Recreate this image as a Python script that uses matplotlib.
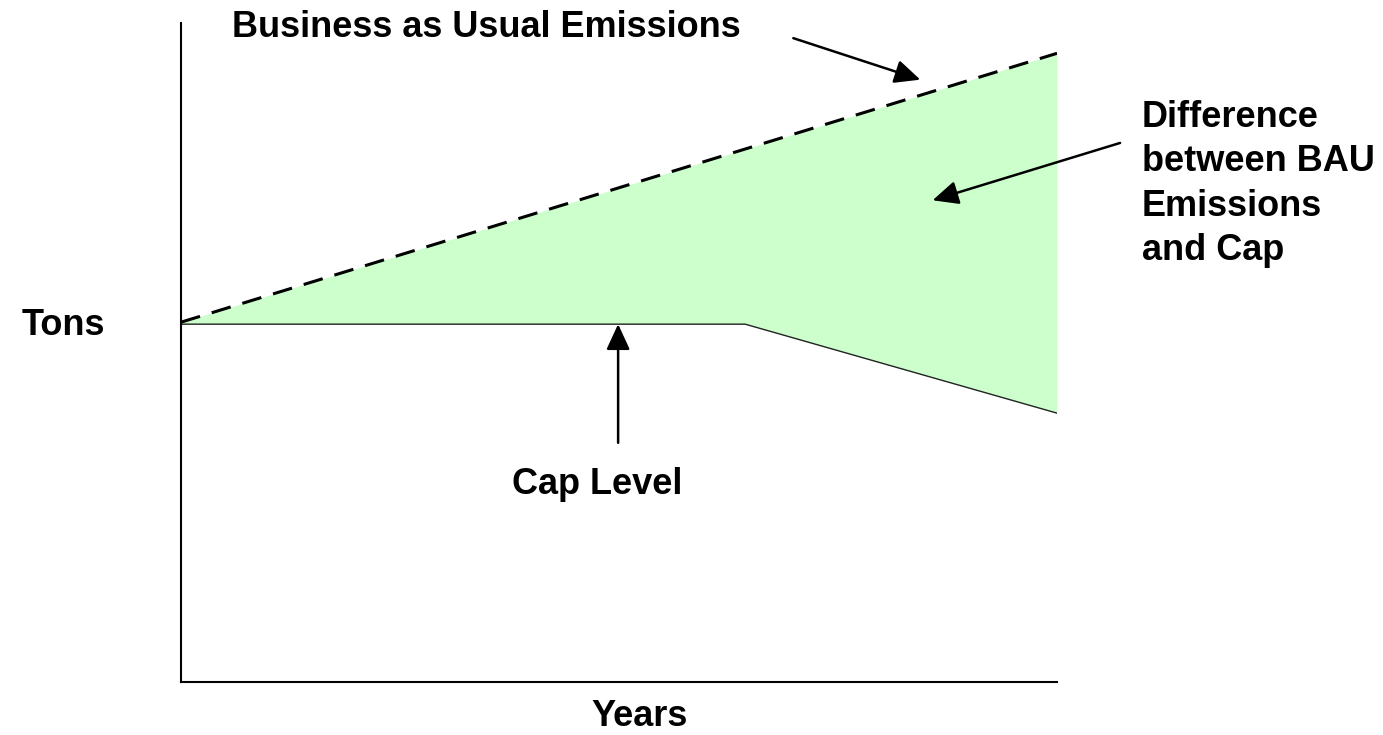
import numpy as np
import matplotlib.pyplot as plt

plt.rcParams['font.family'] = ['Liberation Sans', 'DejaVu Sans']

# schematic values (arbitrary units)
years = [0, 6.44, 10]
bau_years = [0, 10]
bau_tons = [54.6, 95.4]
cap_tons = [54.3, 54.3, 40.8]

W, H = 1383, 735
fig = plt.figure(figsize=(W / 100, H / 100), dpi=100)
ax = fig.add_axes([181 / W, (H - 682) / H, (1057 - 181) / W, (682 - 23) / H])

bau_on_years = np.interp(years, bau_years, bau_tons)
ax.fill_between(years, cap_tons, bau_on_years, color='#ccffcc', lw=0)
ax.plot(years, cap_tons, color='#222222', lw=1.0)
ax.plot(bau_years, bau_tons, color='black', lw=2.2, dashes=(6.5, 4))

ax.set_xlim(0, 10)
ax.set_ylim(0, 100)
ax.set_xticks([])
ax.set_yticks([])
for s in ['top', 'right']:
    ax.spines[s].set_visible(False)
for s in ['left', 'bottom']:
    ax.spines[s].set_linewidth(1.5)

arrow = dict(arrowstyle='-|>,head_length=0.52,head_width=0.24', mutation_scale=30,
             lw=1.8, color='black', shrinkA=0, shrinkB=0)
ax.annotate('', xy=(8.44, 91.4), xytext=(6.99, 97.7), arrowprops=arrow, annotation_clip=False)
ax.annotate('', xy=(8.58, 73.1), xytext=(10.72, 81.8), arrowprops=arrow, annotation_clip=False)
ax.annotate('', xy=(4.99, 54.3), xytext=(4.99, 36.3), arrowprops=arrow, annotation_clip=False)

fs = 26
kw = dict(fontsize=fs, fontweight='bold')
fig.text(232 / W, 1 - 37 / H, 'Business as Usual Emissions', ha='left', va='baseline', **kw)
for i, line in enumerate(['Difference', 'between BAU', 'Emissions', 'and Cap']):
    fig.text(1142 / W, 1 - (127 + 44.3 * i) / H, line, ha='left', va='baseline', **kw)
fig.text(63 / W, 1 - 325 / H, 'Tons', ha='center', va='center', **kw)
fig.text(597 / W, 1 - 485 / H, 'Cap Level', ha='center', va='center', **kw)
fig.text(640 / W, 1 - 717 / H, 'Years', ha='center', va='center', **kw)

fig.savefig('out.png', dpi=100)
